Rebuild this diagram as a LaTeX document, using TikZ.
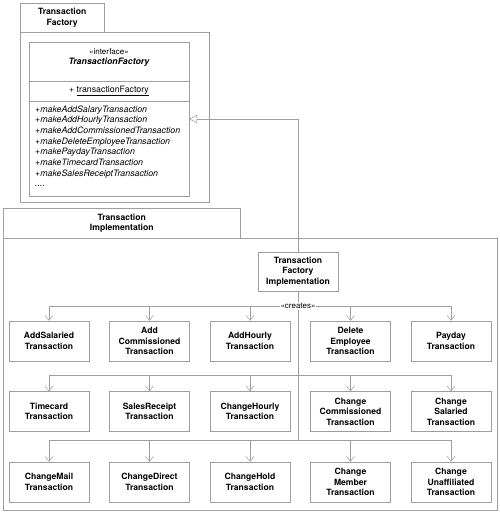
\documentclass[tikz,border=0pt]{standalone}
\usepackage{fontspec}
\setmainfont{TeX Gyre Heros}
\usetikzlibrary{arrows.meta,positioning}
\definecolor{umlline}{gray}{0.62}

\tikzset{
  umlbox/.style={draw=umlline, line width=0.5pt},
  pkgtab/.style={umlbox, inner sep=0pt, anchor=north west, align=center,
    font=\bfseries\fontsize{8.6}{10.5}\selectfont},
  cls/.style={umlbox, minimum width=80pt, minimum height=40pt, inner sep=0pt,
    align=center, font=\bfseries\fontsize{8.6}{10.5}\selectfont},
  link/.style={draw=umlline, line width=0.5pt},
  creates/.style={link, -{Straight Barb[length=5pt,width=8pt]}},
  realizes/.style={link, -{Triangle[open,length=8pt,width=8pt,fill=white]}},
  stereo/.style={inner sep=1pt, font=\fontsize{8}{9}\selectfont},
}

\begin{document}
\begin{tikzpicture}[x=1pt,y=-1pt,node distance=30pt and 20pt]
\useasboundingbox (0,0) rectangle (500,512);

% package Transaction Factory
\node[pkgtab, minimum width=84pt, minimum height=29pt] (facttab) at (20,3) {Transaction\\Factory};
\draw[umlbox] (20,32) rectangle (209,202);

% the interface
\node[umlbox, anchor=north west, inner sep=0pt, minimum width=160pt, minimum height=154pt] (iface) at (29,42) {};
\coordinate (sep1) at (29,81);
\coordinate (sep2) at (29,101);
\draw[umlbox] (sep1) -- (sep1 -| iface.east);
\draw[umlbox] (sep2) -- (sep2 -| iface.east);
\node[stereo] (ifstereo) at (109,52) {«interface»};
\node[font=\bfseries\itshape\fontsize{8.8}{10}\selectfont, inner sep=0pt] (ifname) at (109,62) {TransactionFactory};
\node[font=\fontsize{8.8}{10}\selectfont, inner sep=0pt] (ifattr) at (109,91) {+ \underline{transactionFactory}};
\node[anchor=north west, align=left, inner sep=0pt, font=\itshape\fontsize{8.8}{10.65}\selectfont] (ifops) at (35,105.5) {%
+makeAddSalaryTransaction\\
+makeAddHourlyTransaction\\
+makeAddCommissionedTransaction\\
+makeDeleteEmployeeTransaction\\
+makePaydayTransaction\\
+makeTimecardTransaction\\
+makeSalesReceiptTransaction\\
....};

% package Transaction Implementation
\node[pkgtab, minimum width=237pt, minimum height=30pt] (impltab) at (3,208) {Transaction\\Implementation};
\draw[umlbox] (3,238) rectangle (497,510);

\node[cls, minimum height=39pt] (tfi) at (298,271.5) {Transaction\\Factory\\Implementation};

% first row
\node[cls] (addsal) at (49,341) {AddSalaried\\Transaction};
\node[cls, right=of addsal] (addcomm) {Add\\Commissioned\\Transaction};
\node[cls, right=of addcomm] (addhour) {AddHourly\\Transaction};
\node[cls, right=of addhour] (delemp) {Delete\\Employee\\Transaction};
\node[cls, right=of delemp] (payday) {Payday\\Transaction};
% second row
\node[cls, below=of addsal] (timecard) {Timecard\\Transaction};
\node[cls, below=of addcomm] (salesrcpt) {SalesReceipt\\Transaction};
\node[cls, below=of addhour] (chghour) {ChangeHourly\\Transaction};
\node[cls, below=of delemp] (chgcomm) {Change\\Commissioned\\Transaction};
\node[cls, below=of payday] (chgsal) {Change\\Salaried\\Transaction};
% third row
\node[cls, below=of timecard] (chgmail) {ChangeMail\\Transaction};
\node[cls, below=of salesrcpt] (chgdirect) {ChangeDirect\\Transaction};
\node[cls, below=of chghour] (chghold) {ChangeHold\\Transaction};
\node[cls, below=of chgcomm] (chgmember) {Change\\Member\\Transaction};
\node[cls, below=of chgsal] (chgunaff) {Change\\Unaffiliated\\Transaction};

% connectors
\coordinate (genpt) at (189,119);
\draw[realizes] (tfi.north) |- (genpt);

\coordinate (bus1) at (298,306);
\coordinate (bus2) at (298,375);
\coordinate (bus3) at (298,440);
\draw[link] (tfi.south) -- (bus3);
\draw[link] (addsal.north |- bus1) -- (payday.north |- bus1);
\draw[link] (timecard.north |- bus2) -- (chgsal.north |- bus2);
\draw[link] (chgmail.north |- bus3) -- (chgunaff.north |- bus3);
\foreach \n in {addsal,addcomm,addhour,delemp,payday}
  \draw[creates] (\n.north |- bus1) -- (\n.north);
\foreach \n in {timecard,salesrcpt,chghour,chgcomm,chgsal}
  \draw[creates] (\n.north |- bus2) -- (\n.north);
\foreach \n in {chgmail,chgdirect,chghold,chgmember,chgunaff}
  \draw[creates] (\n.north |- bus3) -- (\n.north);
\node[stereo, fill=white] (crlabel) at (bus1) {«creates»};
\end{tikzpicture}
\end{document}
